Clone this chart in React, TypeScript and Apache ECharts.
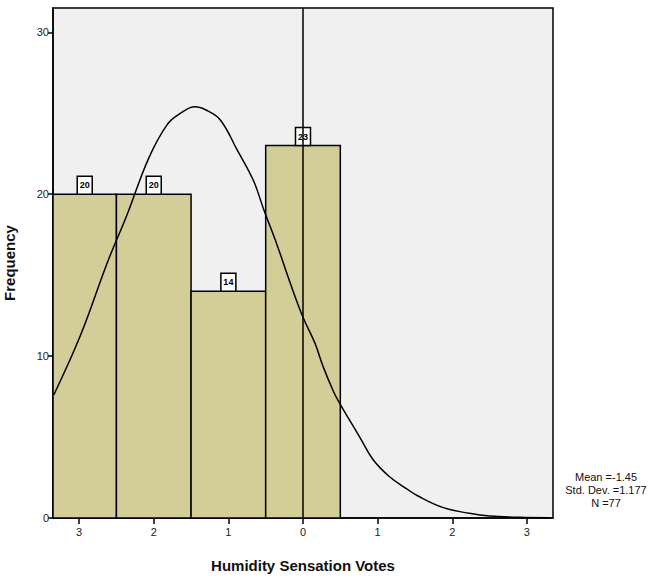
import React, { useEffect, useRef } from "react";
import * as echarts from "echarts";

const VOTES = [-3, -2, -1, 0];
const FREQ = [20, 20, 14, 23];
const X_TICKS = [-3, -2, -1, 0, 1, 2, 3];
const X_TICK_LABELS = ["3", "2", "1", "0", "1", "2", "3"];
const Y_TICKS = [0, 10, 20, 30];
const CURVE_X = [-3.34, -2.98, -2.62, -2.36, -2.07, -1.82, -1.64, -1.45, -1.3, -1.11, -0.89, -0.66, -0.53, -0.35, -0.17, 0.0, 0.16, 0.27, 0.41, 0.49, 0.63, 0.76, 0.94, 1.16, 1.39, 1.54, 1.88, 2.23, 2.5, 2.9, 3.3];
const CURVE_Y = [7.6, 11.3, 15.8, 18.7, 22.2, 24.3, 25.0, 25.4, 25.2, 24.6, 22.8, 20.8, 19.1, 16.9, 14.5, 12.4, 10.8, 9.35, 7.8, 7.1, 6.0, 5.0, 3.6, 2.55, 1.8, 1.36, 0.64, 0.29, 0.12, 0.04, 0.02];
const STATS = ["Mean =-1.45", "Std. Dev. =1.177", "N =77"];
const X_TITLE = "Humidity Sensation Votes";
const Y_TITLE = "Frequency";

const BAR_COLOR = "#d3ce98";
const FONT = "Liberation Sans, Arial, sans-serif";

export default function App() {
  const ref = useRef<HTMLDivElement>(null);
  useEffect(() => {
    if (!ref.current) return;
    const chart = echarts.init(ref.current, null, { renderer: "svg" });
    const option: any = {
      animation: false,
      backgroundColor: "#ffffff",
      grid: {
        left: 53,
        top: 8,
        right: 108,
        bottom: 60,
        show: true,
        backgroundColor: "#f0f0f0",
        borderColor: "#000",
        borderWidth: 1.5,
        containLabel: false,
        outerBoundsMode: "none",
      },
      xAxis: {
        type: "value",
        min: -3.35,
        max: 3.35,
        name: X_TITLE,
        nameLocation: "middle",
        nameGap: 40,
        nameTextStyle: { fontFamily: FONT, fontWeight: "bold", fontSize: 15, color: "#111" },
        axisLine: { show: true, onZero: false, lineStyle: { color: "#000", width: 1.5 } },
        axisTick: { show: true, customValues: X_TICKS, length: 6, lineStyle: { color: "#000", width: 1.5 } },
        axisLabel: {
          customValues: X_TICKS,
          formatter: (v: number) => {
            const i = X_TICKS.findIndex((t) => Math.abs(t - v) < 1e-6);
            return i >= 0 ? X_TICK_LABELS[i] : "";
          },
          fontFamily: FONT,
          fontSize: 11,
          color: "#222",
          margin: 8,
        },
        splitLine: { show: false },
      },
      yAxis: {
        type: "value",
        min: 0,
        max: 31.5,
        name: Y_TITLE,
        nameLocation: "middle",
        nameGap: 36,
        nameRotate: 90,
        nameTextStyle: { fontFamily: FONT, fontWeight: "bold", fontSize: 15, color: "#111" },
        axisLine: { show: true, onZero: false, lineStyle: { color: "#000", width: 1.5 } },
        axisTick: { show: true, customValues: Y_TICKS, length: 5, lineStyle: { color: "#000", width: 1.5 } },
        axisLabel: {
          customValues: Y_TICKS,
          fontFamily: FONT,
          fontSize: 11,
          color: "#222",
          margin: 4,
        },
        splitLine: { show: false },
      },
      series: [
        {
          type: "custom",
          data: VOTES.map((v, i) => [v, FREQ[i]]),
          z: 2,
          renderItem: (params: any, api: any) => {
            const x = api.value(0);
            const y = api.value(1);
            const cs = params.coordSys;
            const p0 = api.coord([x - 0.5, 0]);
            const p1 = api.coord([x + 0.5, y]);
            const left = Math.max(p0[0], cs.x);
            const right = Math.min(p1[0], cs.x + cs.width);
            const top = p1[1];
            const bottom = p0[1];
            const cx = (left + right) / 2;
            return {
              type: "group",
              children: [
                {
                  type: "rect",
                  shape: { x: left, y: top, width: right - left, height: bottom - top },
                  style: { fill: BAR_COLOR, stroke: "#000", lineWidth: 1.5 },
                },
                {
                  type: "rect",
                  shape: { x: cx - 7.5, y: top - 18, width: 15, height: 18 },
                  style: { fill: "#fff", stroke: "#000", lineWidth: 1.5 },
                },
                {
                  type: "text",
                  x: cx,
                  y: top - 9,
                  style: {
                    text: String(y),
                    align: "center",
                    verticalAlign: "middle",
                    font: "bold 9px " + FONT,
                    fill: "#000",
                  },
                },
              ],
            };
          },
        },
        {
          type: "line",
          data: CURVE_X.map((x, i) => [x, CURVE_Y[i]]),
          smooth: 0.4,
          showSymbol: false,
          symbol: "none",
          z: 3,
          lineStyle: { color: "#000", width: 1.5 },
          markLine: {
            silent: true,
            symbol: ["none", "none"],
            label: { show: false },
            lineStyle: { color: "#000", width: 1.5, type: "solid" },
            data: [{ xAxis: 0 }],
          },
        },
      ],
      graphic: STATS.map((s, i) => ({
        type: "text",
        x: 606,
        y: 477 + i * 13,
        style: {
          text: s,
          align: "center",
          verticalAlign: "middle",
          font: "11px " + FONT,
          fill: "#111",
        },
      })),
    };
    chart.setOption(option);
    return () => chart.dispose();
  }, []);
  return <div ref={ref} style={{ width: 661, height: 578, position: "absolute", left: 0, top: 0 }} />;
}
